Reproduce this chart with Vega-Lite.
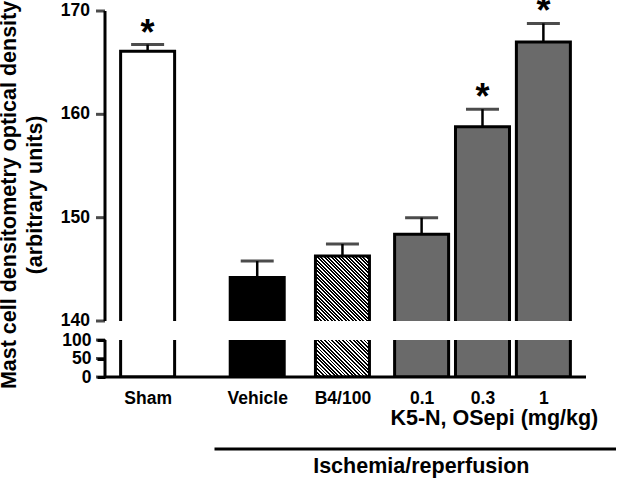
{
  "$schema": "https://vega.github.io/schema/vega-lite/v6.json",
  "background": "white",
  "padding": {"left": -2, "top": -6, "right": 0, "bottom": 0},
  "datasets": {
    "bars": [
      {"group": "Sham", "treatment": "Sham", "mean": 166.1, "upper": 166.75, "sig": "*"},
      {"group": "Vehicle", "treatment": "Vehicle", "mean": 144.2, "upper": 145.8, "sig": ""},
      {"group": "B4/100", "treatment": "B4/100", "mean": 146.3, "upper": 147.45, "sig": ""},
      {"group": "0.1", "treatment": "K5-N, OSepi", "mean": 148.4, "upper": 150.0, "sig": ""},
      {"group": "0.3", "treatment": "K5-N, OSepi", "mean": 158.8, "upper": 160.5, "sig": "*"},
      {"group": "1", "treatment": "K5-N, OSepi", "mean": 167.0, "upper": 168.8, "sig": "*"}
    ],
    "upperTicks": [{"v": 140}, {"v": 150}, {"v": 160}, {"v": 170}],
    "lowerTicks": [{"v": 0}, {"v": 50}, {"v": 100}],
    "yTitle": [{"at": 152.2}]
  },
  "spacing": 19,
  "bounds": "flush",
  "resolve": {"scale": {"x": "independent", "y": "independent"}},
  "vconcat": [
    {
      "width": 481,
      "height": 310,
      "data": {"name": "bars"},
      "layer": [
        {
          "mark": {"type": "rule", "strokeWidth": 2.5, "color": "#000"},
          "encoding": {
            "x": {"field": "group", "type": "nominal", "axis": null, "scale": {"type": "point", "padding": 0, "domain": ["_0","_1","_2","_3","_4","_5","_6","Sham","_8","_9","_10","_11","_12","_13","_14","_15","_16","_17","_18","_19","_20","_21","_22","_23","_24","Vehicle","_26","_27","_28","_29","_30","_31","_32","_33","_34","_35","_36","_37","_38","B4/100","_40","_41","_42","_43","_44","_45","_46","_47","_48","_49","_50","_51","0.1","_53","_54","_55","_56","_57","_58","_59","_60","_61","0.3","_63","_64","_65","_66","_67","_68","_69","_70","_71","1","_73","_74","_75","_76","_77","_78","_79"]}},
            "y": {"field": "mean", "type": "quantitative", "axis": null, "scale": {"domain": [140, 170], "nice": false, "zero": false}},
            "y2": {"field": "upper"}
          }
        },
        {
          "mark": {"type": "tick", "thickness": 3, "size": 33, "color": "#000"},
          "encoding": {
            "x": {"field": "group", "type": "nominal", "axis": null},
            "y": {"field": "upper", "type": "quantitative", "axis": null, "scale": {"domain": [140, 170], "nice": false, "zero": false}}
          }
        },
        {
          "transform": [{"filter": "datum.group !== 'B4/100'"}],
          "mark": {"type": "bar", "width": 54, "stroke": "#000", "strokeWidth": 3, "clip": true},
          "encoding": {
            "x": {"field": "group", "type": "nominal", "axis": null},
            "y": {"field": "mean", "type": "quantitative", "axis": null, "scale": {"domain": [140, 170], "nice": false, "zero": false}},
            "y2": {"datum": 138},
            "fill": {"field": "treatment", "type": "nominal", "legend": null, "scale": {"domain": ["Sham", "Vehicle", "B4/100", "K5-N, OSepi"], "range": ["#ffffff", "#000000", "#ffffff", "#6a6a6a"]}}
          }
        },
        {
          "transform": [{"filter": "datum.group === 'B4/100'"}],
          "mark": {"type": "bar", "width": 54, "stroke": "#000", "strokeWidth": 3, "clip": true,
            "fill": {"gradient": "linear", "x1": 0, "y1": 1, "x2": 0.7347, "y2": -0.167, "stops": [
              {"offset":0,"color":"#fff"},
              {"offset":0.0125,"color":"#fff"},{"offset":0.0125,"color":"#000"},
              {"offset":0.025,"color":"#000"},{"offset":0.025,"color":"#fff"},
              {"offset":0.0375,"color":"#fff"},{"offset":0.0375,"color":"#000"},
              {"offset":0.05,"color":"#000"},{"offset":0.05,"color":"#fff"},
              {"offset":0.0625,"color":"#fff"},{"offset":0.0625,"color":"#000"},
              {"offset":0.075,"color":"#000"},{"offset":0.075,"color":"#fff"},
              {"offset":0.0875,"color":"#fff"},{"offset":0.0875,"color":"#000"},
              {"offset":0.1,"color":"#000"},{"offset":0.1,"color":"#fff"},
              {"offset":0.1125,"color":"#fff"},{"offset":0.1125,"color":"#000"},
              {"offset":0.125,"color":"#000"},{"offset":0.125,"color":"#fff"},
              {"offset":0.1375,"color":"#fff"},{"offset":0.1375,"color":"#000"},
              {"offset":0.15,"color":"#000"},{"offset":0.15,"color":"#fff"},
              {"offset":0.1625,"color":"#fff"},{"offset":0.1625,"color":"#000"},
              {"offset":0.175,"color":"#000"},{"offset":0.175,"color":"#fff"},
              {"offset":0.1875,"color":"#fff"},{"offset":0.1875,"color":"#000"},
              {"offset":0.2,"color":"#000"},{"offset":0.2,"color":"#fff"},
              {"offset":0.2125,"color":"#fff"},{"offset":0.2125,"color":"#000"},
              {"offset":0.225,"color":"#000"},{"offset":0.225,"color":"#fff"},
              {"offset":0.2375,"color":"#fff"},{"offset":0.2375,"color":"#000"},
              {"offset":0.25,"color":"#000"},{"offset":0.25,"color":"#fff"},
              {"offset":0.2625,"color":"#fff"},{"offset":0.2625,"color":"#000"},
              {"offset":0.275,"color":"#000"},{"offset":0.275,"color":"#fff"},
              {"offset":0.2875,"color":"#fff"},{"offset":0.2875,"color":"#000"},
              {"offset":0.3,"color":"#000"},{"offset":0.3,"color":"#fff"},
              {"offset":0.3125,"color":"#fff"},{"offset":0.3125,"color":"#000"},
              {"offset":0.325,"color":"#000"},{"offset":0.325,"color":"#fff"},
              {"offset":0.3375,"color":"#fff"},{"offset":0.3375,"color":"#000"},
              {"offset":0.35,"color":"#000"},{"offset":0.35,"color":"#fff"},
              {"offset":0.3625,"color":"#fff"},{"offset":0.3625,"color":"#000"},
              {"offset":0.375,"color":"#000"},{"offset":0.375,"color":"#fff"},
              {"offset":0.3875,"color":"#fff"},{"offset":0.3875,"color":"#000"},
              {"offset":0.4,"color":"#000"},{"offset":0.4,"color":"#fff"},
              {"offset":0.4125,"color":"#fff"},{"offset":0.4125,"color":"#000"},
              {"offset":0.425,"color":"#000"},{"offset":0.425,"color":"#fff"},
              {"offset":0.4375,"color":"#fff"},{"offset":0.4375,"color":"#000"},
              {"offset":0.45,"color":"#000"},{"offset":0.45,"color":"#fff"},
              {"offset":0.4625,"color":"#fff"},{"offset":0.4625,"color":"#000"},
              {"offset":0.475,"color":"#000"},{"offset":0.475,"color":"#fff"},
              {"offset":0.4875,"color":"#fff"},{"offset":0.4875,"color":"#000"},
              {"offset":0.5,"color":"#000"},{"offset":0.5,"color":"#fff"},
              {"offset":0.5125,"color":"#fff"},{"offset":0.5125,"color":"#000"},
              {"offset":0.525,"color":"#000"},{"offset":0.525,"color":"#fff"},
              {"offset":0.5375,"color":"#fff"},{"offset":0.5375,"color":"#000"},
              {"offset":0.55,"color":"#000"},{"offset":0.55,"color":"#fff"},
              {"offset":0.5625,"color":"#fff"},{"offset":0.5625,"color":"#000"},
              {"offset":0.575,"color":"#000"},{"offset":0.575,"color":"#fff"},
              {"offset":0.5875,"color":"#fff"},{"offset":0.5875,"color":"#000"},
              {"offset":0.6,"color":"#000"},{"offset":0.6,"color":"#fff"},
              {"offset":0.6125,"color":"#fff"},{"offset":0.6125,"color":"#000"},
              {"offset":0.625,"color":"#000"},{"offset":0.625,"color":"#fff"},
              {"offset":0.6375,"color":"#fff"},{"offset":0.6375,"color":"#000"},
              {"offset":0.65,"color":"#000"},{"offset":0.65,"color":"#fff"},
              {"offset":0.6625,"color":"#fff"},{"offset":0.6625,"color":"#000"},
              {"offset":0.675,"color":"#000"},{"offset":0.675,"color":"#fff"},
              {"offset":0.6875,"color":"#fff"},{"offset":0.6875,"color":"#000"},
              {"offset":0.7,"color":"#000"},{"offset":0.7,"color":"#fff"},
              {"offset":0.7125,"color":"#fff"},{"offset":0.7125,"color":"#000"},
              {"offset":0.725,"color":"#000"},{"offset":0.725,"color":"#fff"},
              {"offset":0.7375,"color":"#fff"},{"offset":0.7375,"color":"#000"},
              {"offset":0.75,"color":"#000"},{"offset":0.75,"color":"#fff"},
              {"offset":0.7625,"color":"#fff"},{"offset":0.7625,"color":"#000"},
              {"offset":0.775,"color":"#000"},{"offset":0.775,"color":"#fff"},
              {"offset":0.7875,"color":"#fff"},{"offset":0.7875,"color":"#000"},
              {"offset":0.8,"color":"#000"},{"offset":0.8,"color":"#fff"},
              {"offset":0.8125,"color":"#fff"},{"offset":0.8125,"color":"#000"},
              {"offset":0.825,"color":"#000"},{"offset":0.825,"color":"#fff"},
              {"offset":0.8375,"color":"#fff"},{"offset":0.8375,"color":"#000"},
              {"offset":0.85,"color":"#000"},{"offset":0.85,"color":"#fff"},
              {"offset":0.8625,"color":"#fff"},{"offset":0.8625,"color":"#000"},
              {"offset":0.875,"color":"#000"},{"offset":0.875,"color":"#fff"},
              {"offset":0.8875,"color":"#fff"},{"offset":0.8875,"color":"#000"},
              {"offset":0.9,"color":"#000"},{"offset":0.9,"color":"#fff"},
              {"offset":0.9125,"color":"#fff"},{"offset":0.9125,"color":"#000"},
              {"offset":0.925,"color":"#000"},{"offset":0.925,"color":"#fff"},
              {"offset":0.9375,"color":"#fff"},{"offset":0.9375,"color":"#000"},
              {"offset":0.95,"color":"#000"},{"offset":0.95,"color":"#fff"},
              {"offset":0.9625,"color":"#fff"},{"offset":0.9625,"color":"#000"},
              {"offset":0.975,"color":"#000"},{"offset":0.975,"color":"#fff"},
              {"offset":0.9875,"color":"#fff"},{"offset":0.9875,"color":"#000"},
              {"offset":1,"color":"#000"}
            ]}},
          "encoding": {
            "x": {"field": "group", "type": "nominal", "axis": null},
            "y": {"field": "mean", "type": "quantitative", "axis": null, "scale": {"domain": [140, 170], "nice": false, "zero": false}},
            "y2": {"datum": 138}
          }
        },
        {
          "mark": {"type": "text", "fontSize": 36, "fontWeight": "bold", "font": "Liberation Sans", "baseline": "alphabetic", "align": "center", "color": "#000"},
          "encoding": {
            "x": {"field": "group", "type": "nominal", "axis": null},
            "y": {"field": "upper", "type": "quantitative", "axis": null, "scale": {"domain": [140, 170], "nice": false, "zero": false}},
            "text": {"field": "sig"}
          }
        },
        {
          "data": {"name": "upperTicks"},
          "mark": {"type": "tick", "thickness": 3, "size": 9, "xOffset": -4.5, "color": "#000"},
          "encoding": {
            "x": {"datum": "_0", "type": "nominal", "axis": null},
            "y": {"field": "v", "type": "quantitative", "axis": null}
          }
        },
        {
          "data": {"name": "upperTicks"},
          "mark": {"type": "rule", "strokeWidth": 3, "color": "#000"},
          "encoding": {
            "x": {"datum": "_0", "type": "nominal", "axis": null},
            "y": {"aggregate": "min", "field": "v", "type": "quantitative", "axis": null},
            "y2": {"aggregate": "max", "field": "v"}
          }
        },
        {
          "data": {"name": "upperTicks"},
          "mark": {"type": "text", "fontSize": 17.5, "fontWeight": "bold", "font": "Liberation Sans", "align": "right", "baseline": "middle", "xOffset": -15, "color": "#000"},
          "encoding": {
            "x": {"datum": "_0", "type": "nominal", "axis": null},
            "y": {"field": "v", "type": "quantitative", "axis": null},
            "text": {"field": "v", "type": "quantitative"}
          }
        },
        {
          "data": {"name": "yTitle"},
          "mark": {"type": "text", "fontSize": 21.5, "fontWeight": "bold", "font": "Liberation Sans", "align": "center", "baseline": "middle", "angle": 270, "lineHeight": 26, "xOffset": -95, "color": "#000"},
          "encoding": {
            "x": {"datum": "_0", "type": "nominal", "axis": null},
            "y": {"field": "at", "type": "quantitative", "axis": null},
            "text": {"value": ["Mast cell densitometry optical density", "(arbitrary units)"]}
          }
        }
      ]
    },
    {
      "width": 481,
      "height": 37,
      "data": {"name": "bars"},
      "encoding": {
        "x": {"field": "group", "type": "nominal", "scale": {"type": "point", "padding": 0, "domain": ["_0","_1","_2","_3","_4","_5","_6","Sham","_8","_9","_10","_11","_12","_13","_14","_15","_16","_17","_18","_19","_20","_21","_22","_23","_24","Vehicle","_26","_27","_28","_29","_30","_31","_32","_33","_34","_35","_36","_37","_38","B4/100","_40","_41","_42","_43","_44","_45","_46","_47","_48","_49","_50","_51","0.1","_53","_54","_55","_56","_57","_58","_59","_60","_61","0.3","_63","_64","_65","_66","_67","_68","_69","_70","_71","1","_73","_74","_75","_76","_77","_78","_79"]},
          "axis": {"title": null, "values": ["Sham", "Vehicle", "B4/100", "0.1", "0.3", "1"], "domain": false, "ticks": false, "zindex": 1, "labelPadding": 12, "labelAngle": 0, "labelOverlap": false}},
        "y": {"field": "mean", "type": "quantitative", "scale": {"domain": [0, 100], "nice": false, "zero": true},
          "axis": {"title": null, "values": [0, 50, 100], "domain": false, "ticks": true, "tickColor": "black", "tickWidth": 3, "tickSize": 8, "zindex": 1, "labelPadding": 6, "labelOverlap": false}}
      },
      "layer": [
        {
          "transform": [{"filter": "datum.group !== 'B4/100'"}],
          "mark": {"type": "bar", "width": 54, "stroke": "#000", "strokeWidth": 3, "clip": true},
          "encoding": {
            "fill": {"field": "treatment", "type": "nominal", "legend": null, "scale": {"domain": ["Sham", "Vehicle", "B4/100", "K5-N, OSepi"], "range": ["#ffffff", "#000000", "#ffffff", "#6a6a6a"]}}
          }
        },
        {
          "transform": [{"filter": "datum.group === 'B4/100'"}],
          "mark": {"type": "bar", "width": 54, "stroke": "#000", "strokeWidth": 3, "clip": true,
            "fill": {"gradient": "linear", "x1": 0, "y1": 1, "x2": 0.9988, "y2": -0.0012, "stops": [
              {"offset":0,"color":"#fff"},
              {"offset":0.0167,"color":"#fff"},{"offset":0.0167,"color":"#000"},
              {"offset":0.0333,"color":"#000"},{"offset":0.0333,"color":"#fff"},
              {"offset":0.05,"color":"#fff"},{"offset":0.05,"color":"#000"},
              {"offset":0.0667,"color":"#000"},{"offset":0.0667,"color":"#fff"},
              {"offset":0.0833,"color":"#fff"},{"offset":0.0833,"color":"#000"},
              {"offset":0.1,"color":"#000"},{"offset":0.1,"color":"#fff"},
              {"offset":0.1167,"color":"#fff"},{"offset":0.1167,"color":"#000"},
              {"offset":0.1333,"color":"#000"},{"offset":0.1333,"color":"#fff"},
              {"offset":0.15,"color":"#fff"},{"offset":0.15,"color":"#000"},
              {"offset":0.1667,"color":"#000"},{"offset":0.1667,"color":"#fff"},
              {"offset":0.1833,"color":"#fff"},{"offset":0.1833,"color":"#000"},
              {"offset":0.2,"color":"#000"},{"offset":0.2,"color":"#fff"},
              {"offset":0.2167,"color":"#fff"},{"offset":0.2167,"color":"#000"},
              {"offset":0.2333,"color":"#000"},{"offset":0.2333,"color":"#fff"},
              {"offset":0.25,"color":"#fff"},{"offset":0.25,"color":"#000"},
              {"offset":0.2667,"color":"#000"},{"offset":0.2667,"color":"#fff"},
              {"offset":0.2833,"color":"#fff"},{"offset":0.2833,"color":"#000"},
              {"offset":0.3,"color":"#000"},{"offset":0.3,"color":"#fff"},
              {"offset":0.3167,"color":"#fff"},{"offset":0.3167,"color":"#000"},
              {"offset":0.3333,"color":"#000"},{"offset":0.3333,"color":"#fff"},
              {"offset":0.35,"color":"#fff"},{"offset":0.35,"color":"#000"},
              {"offset":0.3667,"color":"#000"},{"offset":0.3667,"color":"#fff"},
              {"offset":0.3833,"color":"#fff"},{"offset":0.3833,"color":"#000"},
              {"offset":0.4,"color":"#000"},{"offset":0.4,"color":"#fff"},
              {"offset":0.4167,"color":"#fff"},{"offset":0.4167,"color":"#000"},
              {"offset":0.4333,"color":"#000"},{"offset":0.4333,"color":"#fff"},
              {"offset":0.45,"color":"#fff"},{"offset":0.45,"color":"#000"},
              {"offset":0.4667,"color":"#000"},{"offset":0.4667,"color":"#fff"},
              {"offset":0.4833,"color":"#fff"},{"offset":0.4833,"color":"#000"},
              {"offset":0.5,"color":"#000"},{"offset":0.5,"color":"#fff"},
              {"offset":0.5167,"color":"#fff"},{"offset":0.5167,"color":"#000"},
              {"offset":0.5333,"color":"#000"},{"offset":0.5333,"color":"#fff"},
              {"offset":0.55,"color":"#fff"},{"offset":0.55,"color":"#000"},
              {"offset":0.5667,"color":"#000"},{"offset":0.5667,"color":"#fff"},
              {"offset":0.5833,"color":"#fff"},{"offset":0.5833,"color":"#000"},
              {"offset":0.6,"color":"#000"},{"offset":0.6,"color":"#fff"},
              {"offset":0.6167,"color":"#fff"},{"offset":0.6167,"color":"#000"},
              {"offset":0.6333,"color":"#000"},{"offset":0.6333,"color":"#fff"},
              {"offset":0.65,"color":"#fff"},{"offset":0.65,"color":"#000"},
              {"offset":0.6667,"color":"#000"},{"offset":0.6667,"color":"#fff"},
              {"offset":0.6833,"color":"#fff"},{"offset":0.6833,"color":"#000"},
              {"offset":0.7,"color":"#000"},{"offset":0.7,"color":"#fff"},
              {"offset":0.7167,"color":"#fff"},{"offset":0.7167,"color":"#000"},
              {"offset":0.7333,"color":"#000"},{"offset":0.7333,"color":"#fff"},
              {"offset":0.75,"color":"#fff"},{"offset":0.75,"color":"#000"},
              {"offset":0.7667,"color":"#000"},{"offset":0.7667,"color":"#fff"},
              {"offset":0.7833,"color":"#fff"},{"offset":0.7833,"color":"#000"},
              {"offset":0.8,"color":"#000"},{"offset":0.8,"color":"#fff"},
              {"offset":0.8167,"color":"#fff"},{"offset":0.8167,"color":"#000"},
              {"offset":0.8333,"color":"#000"},{"offset":0.8333,"color":"#fff"},
              {"offset":0.85,"color":"#fff"},{"offset":0.85,"color":"#000"},
              {"offset":0.8667,"color":"#000"},{"offset":0.8667,"color":"#fff"},
              {"offset":0.8833,"color":"#fff"},{"offset":0.8833,"color":"#000"},
              {"offset":0.9,"color":"#000"},{"offset":0.9,"color":"#fff"},
              {"offset":0.9167,"color":"#fff"},{"offset":0.9167,"color":"#000"},
              {"offset":0.9333,"color":"#000"},{"offset":0.9333,"color":"#fff"},
              {"offset":0.95,"color":"#fff"},{"offset":0.95,"color":"#000"},
              {"offset":0.9667,"color":"#000"},{"offset":0.9667,"color":"#fff"},
              {"offset":0.9833,"color":"#fff"},{"offset":0.9833,"color":"#000"},
              {"offset":1,"color":"#000"}
            ]}}
        },
        {
          "data": {"name": "lowerTicks"},
          "mark": {"type": "tick", "thickness": 3, "size": 9, "xOffset": -4.5, "color": "#000"},
          "encoding": {
            "x": {"datum": "_0", "type": "nominal"},
            "y": {"field": "v", "type": "quantitative"}
          }
        },
        {
          "data": {"name": "lowerTicks"},
          "mark": {"type": "rule", "strokeWidth": 3, "color": "#000"},
          "encoding": {
            "x": {"datum": "_0", "type": "nominal"},
            "y": {"aggregate": "min", "field": "v", "type": "quantitative"},
            "y2": {"aggregate": "max", "field": "v"}
          }
        },
        {
          "data": {"name": "lowerTicks"},
          "transform": [{"filter": "datum.v === 0"}],
          "mark": {"type": "rule", "strokeWidth": 3, "color": "#000"},
          "encoding": {
            "x": {"datum": "_0", "type": "nominal"},
            "x2": {"datum": "_79"},
            "y": {"field": "v", "type": "quantitative"}
          }
        }
      ]
    },
    {
      "width": 511,
      "height": 77,
      "data": {"values": [
        {"note": "K5-N, OSepi (mg/kg)", "level": "K5"},
        {"note": "Ischemia/reperfusion", "level": "Isch"}
      ]},
      "layer": [
        {
          "transform": [{"filter": "datum.level === 'Isch'"}],
          "mark": {"type": "rule", "strokeWidth": 3, "color": "#000"},
          "encoding": {
            "x": {"datum": "_18", "type": "nominal", "axis": null, "scale": {"type": "point", "padding": 0, "domain": ["_0","_1","_2","_3","_4","_5","_6","Sham","_8","_9","_10","_11","_12","_13","_14","_15","_16","_17","_18","_19","_20","_21","_22","_23","_24","Vehicle","_26","_27","_28","_29","_30","_31","_32","_33","_34","_35","_36","_37","_38","B4/100","_40","_41","_42","_43","_44","_45","_46","_47","_48","_49","_50","_51","0.1","_53","_54","_55","_56","_57","_58","_59","_60","_61","0.3","_63","_64","_65","_66","_67","_68","_69","_70","_71","1","_73","_74","_75","_76","_77","_78","_79","_80","_81","_82","_83","_84"]}},
            "x2": {"datum": "_84"},
            "y": {"datum": "line", "type": "nominal", "axis": null, "scale": {"type": "point", "domain": ["K5", "line", "Isch"], "padding": 0.604, "align": 1}}
          }
        },
        {
          "transform": [{"filter": "datum.level === 'K5'"}],
          "mark": {"type": "text", "fontSize": 21.5, "fontWeight": "bold", "font": "Liberation Sans", "baseline": "alphabetic", "align": "center", "color": "#000"},
          "encoding": {
            "x": {"datum": "_64", "type": "nominal", "axis": null},
            "y": {"field": "level", "type": "nominal", "axis": null},
            "text": {"field": "note"}
          }
        },
        {
          "transform": [{"filter": "datum.level === 'Isch'"}],
          "mark": {"type": "text", "fontSize": 21.5, "fontWeight": "bold", "font": "Liberation Sans", "baseline": "alphabetic", "align": "center", "color": "#000"},
          "encoding": {
            "x": {"datum": "0.1", "type": "nominal", "axis": null},
            "y": {"field": "level", "type": "nominal", "axis": null},
            "text": {"field": "note"}
          }
        }
      ]
    }
  ],
  "config": {
    "view": {"stroke": null},
    "font": "Liberation Sans",
    "axis": {
      "labelFont": "Liberation Sans", "titleFont": "Liberation Sans",
      "labelFontWeight": "bold", "titleFontWeight": "bold",
      "labelFontSize": 17.5, "labelColor": "#000", "titleColor": "#000",
      "labelOverlap": false, "grid": false
    }
  }
}
